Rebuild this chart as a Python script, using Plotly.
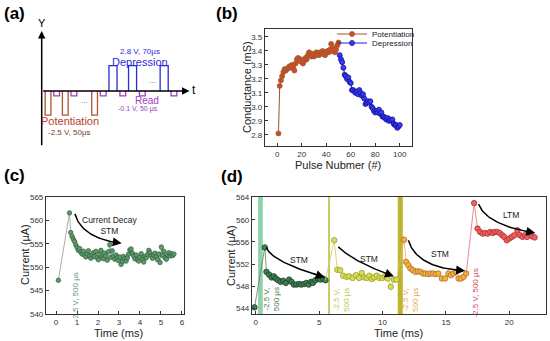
import plotly.graph_objects as go

FONT = "Arial, Liberation Sans, sans-serif"
W, H = 550, 341

# ---------------- (a) pulse scheme ----------------
seq_kind = ["P", "R", "P", "R", "...", "P", "R", "D", "R", "D", "R", "...", "D", "R"]
seq_volt = {"P": -2.5, "R": -0.1, "D": 2.8}
seq_width_us = {"P": 50, "R": 50, "D": 70, "...": 80}
gap_us = 25
t_start_us = 30

# ---------------- (b) conductance ----------------
pot_n = list(range(1, 51))
pot_g = [2.81, 3.15, 3.19, 3.22, 3.25, 3.27, 3.26, 3.27, 3.28, 3.29,
         3.28, 3.30, 3.28, 3.26, 3.31, 3.34, 3.35, 3.33, 3.34, 3.32,
         3.31, 3.33, 3.35, 3.34, 3.37, 3.39, 3.37, 3.36, 3.38, 3.36,
         3.37, 3.39, 3.38, 3.37, 3.39, 3.38, 3.40, 3.38, 3.37, 3.39,
         3.40, 3.39, 3.41, 3.45, 3.40, 3.42, 3.39, 3.41, 3.44, 3.46]
dep_n = list(range(51, 101))
dep_g = [3.37, 3.34, 3.32, 3.28, 3.23, 3.22, 3.20, 3.21, 3.18, 3.17,
         3.12, 3.12, 3.11, 3.10, 3.11, 3.09, 3.12, 3.10, 3.08, 3.09,
         3.06, 3.02, 3.03, 3.04, 3.03, 3.04, 3.00, 2.99, 2.97, 2.96,
         2.97, 2.96, 2.98, 2.95, 2.96, 2.93, 2.93, 2.92, 2.91, 2.92,
         2.90, 2.91, 2.90, 2.91, 2.88, 2.87, 2.87, 2.85, 2.86, 2.87]

# ---------------- (c) single pulse STM ----------------
c_time = [0.11, 0.64, 0.70, 0.76, 0.82, 0.88, 0.94, 1.00, 1.06, 1.12, 1.18, 1.24, 1.30,
          1.36, 1.42, 1.48, 1.54, 1.60, 1.66, 1.72, 1.78, 1.84, 1.90, 1.96, 2.02,
          2.08, 2.14, 2.20, 2.26, 2.32, 2.38, 2.44, 2.50, 2.56, 2.62, 2.68, 2.74,
          2.80, 2.86, 2.92, 2.98, 3.04, 3.10, 3.16, 3.22, 3.28, 3.34, 3.40, 3.46,
          3.52, 3.58, 3.64, 3.70, 3.76, 3.82, 3.88, 3.94, 4.00, 4.06, 4.12, 4.18,
          4.24, 4.30, 4.36, 4.42, 4.48, 4.54, 4.60, 4.66, 4.72, 4.78, 4.84, 4.90,
          4.96, 5.02, 5.08, 5.14, 5.20, 5.26, 5.32, 5.38, 5.44, 5.50, 5.56, 5.62]
c_curr = [547.2, 561.6, 557.4, 556.6, 556.0, 555.5, 554.8, 554.2, 553.6, 554.0, 553.2, 552.8, 553.4,
          552.6, 552.2, 552.9, 553.5, 552.4, 551.9, 552.6, 553.1, 552.3, 553.4, 552.0, 551.6,
          552.8, 553.6, 552.2, 551.8, 553.0, 552.4, 551.5, 553.3, 554.8, 552.1, 553.5, 552.3,
          551.7, 552.6, 552.0, 551.4, 552.2, 550.6, 551.2, 552.3, 551.8, 551.3, 552.0, 552.8,
          553.7, 553.9, 553.0, 552.4, 551.8, 552.6, 551.6, 551.3, 552.1, 552.9, 551.7, 551.1,
          552.3, 552.0, 552.7, 553.6, 553.1, 552.4, 551.9, 552.6, 553.0, 552.2, 551.6, 552.8,
          551.0, 554.3, 552.5, 553.4, 552.0, 551.7, 552.6, 553.1, 552.4, 552.9, 552.5, 552.8]

# ---------------- (d) STM -> LTM ----------------
d1_t = [-0.1, 0.71, 0.84, 1.05, 1.24, 1.42, 1.58, 1.76, 1.95, 2.16, 2.37, 2.63, 2.82, 3.0,
        3.21, 3.42, 3.6, 3.82, 4.0, 4.18, 4.37, 4.5, 4.7, 4.9, 5.1, 5.3, 5.5]
d1_i = [544.2, 555.0, 550.6, 550.1, 549.6, 549.8, 549.4, 549.1, 548.8, 549.0, 548.6, 549.2, 548.8, 548.3,
        548.3, 548.4, 548.3, 548.4, 548.6, 548.3, 548.8, 548.6, 549.1, 549.4, 549.2, 549.4, 549.1]
d2_t = [6.19, 6.43, 6.66, 6.9, 7.16, 7.37, 7.64, 7.9, 8.15, 8.36, 8.54, 8.75, 8.96, 9.15,
        9.33, 9.54, 9.75, 9.99, 10.2, 10.4, 10.65, 10.9, 11.1]
d2_i = [556.3, 551.0, 550.9, 549.9, 549.7, 549.8, 549.5, 550.0, 549.5, 550.4, 549.6, 549.5, 549.9, 549.3,
        549.6, 549.9, 549.5, 549.5, 549.8, 549.4, 547.9, 549.2, 549.2]
d3_t = [11.7, 11.86, 12.04, 12.2, 12.4, 12.6, 12.8, 13.0, 13.2, 13.4, 13.6, 13.8, 14.0, 14.2,
        14.4, 14.68, 14.94, 15.2, 15.4, 15.6, 15.8, 16.0, 16.2, 16.4, 16.6]
d3_i = [556.4, 552.4, 551.8, 551.2, 550.9, 550.6, 550.7, 550.6, 550.3, 550.3, 550.2, 550.3, 550.3, 550.2,
        550.3, 549.4, 549.4, 550.3, 550.0, 550.3, 550.6, 549.4, 549.4, 549.7, 550.3]
d4_t = [17.23, 17.5, 17.7, 17.9, 18.1, 18.3, 18.5, 18.7, 18.85, 19.05, 19.25, 19.45, 19.6, 19.8,
        20.0, 20.2, 20.4, 20.65, 20.85, 21.05, 21.25, 21.4, 21.6, 21.8, 22.0]
d4_i = [563.0, 558.4, 557.8, 557.5, 557.6, 557.5, 557.8, 557.6, 557.8, 557.8, 557.6, 557.2, 556.9, 556.3,
        556.6, 556.9, 557.2, 558.1, 557.2, 556.9, 557.2, 556.9, 557.5, 557.0, 556.8]
d_pulse_start = [0.18, 5.72, 11.2]
d_pulse_end = [0.55, 5.84, 11.6]

fig = go.Figure()

def px_x(p):
    return p / W

def px_y(p):
    return 1 - p / H

def note(**kw):
    kw.setdefault("xanchor", "center")
    kw.setdefault("yanchor", "middle")
    fig.add_annotation(**kw)

# ---------- panel (a) ----------
pot_col, read_col, dep_col = "#B0552C", "#A040C0", "#2A2AD8"
kind_col = {"P": pot_col, "R": read_col, "D": dep_col}
t = t_start_us
dots_pos = []
for k in seq_kind:
    w = seq_width_us[k]
    s, e = t, t + w
    if k == "...":
        dots_pos.append((s + e) / 2)
    else:
        v = seq_volt[k]
        h = (abs(v) ** 0.5) * (1 if v > 0 else -1)
        fig.add_trace(go.Scatter(x=[s, s, e, e], y=[0, h, h, 0], mode="lines",
                                 line=dict(color=kind_col[k], width=1.3),
                                 xaxis="x", yaxis="y", showlegend=False, hoverinfo="skip"))
    t = e + gap_us

fig.add_annotation(x=0, y=3.95, ax=0, ay=-3.66, xref="x", yref="y", axref="x", ayref="y",
                   showarrow=True, arrowhead=2, arrowsize=1, arrowwidth=1.5, arrowcolor="black", text="")
fig.add_annotation(x=1285, y=0, ax=0, ay=0, xref="x", yref="y", axref="x", ayref="y",
                   showarrow=True, arrowhead=2, arrowsize=1, arrowwidth=1.5, arrowcolor="black", text="")
a_txt = [
    ("Y", 0, 4.45, 11, "black"),
    ("t", 1325, 0.05, 12, "black"),
    ("2.8 V, 70µs", 855, 2.62, 8, dep_col),
    ("Depression", 855, 1.88, 11, dep_col),
    ("Read", 913, -0.62, 10, read_col),
    ("-0.1 V, 50 µs", 840, -1.17, 7, read_col),
    ("Potentiation", 246, -1.98, 11, "#B5432E"),
    ("-2.5 V, 50µs", 246, -2.7, 8, "#7A3A2A"),
]
for txt, x, y, sz, col in a_txt:
    note(x=x, y=y, xref="x", yref="y", text=txt, showarrow=False,
         font=dict(size=sz, color=col, family=FONT))
for dp, yy in zip(dots_pos, [-0.6, 0.72]):
    note(x=dp, y=yy, xref="x", yref="y", text="...", showarrow=False,
         font=dict(size=8, color="#555", family=FONT))

# ---------- panel (b) ----------
fig.add_trace(go.Scatter(x=pot_n, y=pot_g, mode="lines+markers", name="Potentiation",
                         line=dict(color="#A0522D", width=1),
                         marker=dict(size=5, color="#E0402A", line=dict(color="#8A6A28", width=0.8)),
                         xaxis="x2", yaxis="y2", legend="legend"))
fig.add_trace(go.Scatter(x=dep_n, y=dep_g, mode="lines+markers", name="Depression",
                         line=dict(color="#2020D0", width=1),
                         marker=dict(size=5, color="#3A3AF0", line=dict(color="#1010A0", width=0.8)),
                         xaxis="x2", yaxis="y2", legend="legend2"))

# ---------- panel (c) ----------
fig.add_trace(go.Scatter(x=c_time, y=c_curr, mode="lines+markers",
                         line=dict(color="#8E9C92", width=0.8),
                         marker=dict(size=4.5, color="#5E9A6A", line=dict(color="#2F5F3A", width=0.7)),
                         xaxis="x3", yaxis="y3", showlegend=False))

# ---------- panel (d) ----------
segs = [(d1_t, d1_i, "#3F7F4F", "#1E3E28", "#5A7F62"),
        (d2_t, d2_i, "#D4DC5A", "#9AA020", "#C8CE5A"),
        (d3_t, d3_i, "#F5B045", "#B07020", "#F0B060"),
        (d4_t, d4_i, "#F06060", "#B03030", "#E07070")]
prev = None
for tt, ii, fc, ec, lc in segs:
    lx, ly = list(tt), list(ii)
    if prev is not None:
        lx = [prev[0]] + lx
        ly = [prev[1]] + ly
    fig.add_trace(go.Scatter(x=lx, y=ly, mode="lines", line=dict(color=lc, width=0.8),
                             xaxis="x4", yaxis="y4", showlegend=False, hoverinfo="skip"))
    fig.add_trace(go.Scatter(x=tt, y=ii, mode="markers",
                             marker=dict(size=5.5, color=fc, line=dict(color=ec, width=0.8)),
                             xaxis="x4", yaxis="y4", showlegend=False))
    prev = (tt[-1], ii[-1])

band_cols = ["#8ED3A8", "#B5BA3A", "#BDB52E"]
for s, e, col in zip(d_pulse_start, d_pulse_end, band_cols):
    fig.add_shape(type="rect", xref="x4", yref="y4 domain", x0=s, x1=e, y0=0, y1=1,
                  fillcolor=col, line=dict(width=0), layer="below")

# curved arrows
def bez(p0, p1, p2, n=40):
    xs, ys = [], []
    for i in range(n + 1):
        u = i / n
        xs.append((1 - u) ** 2 * p0[0] + 2 * (1 - u) * u * p1[0] + u ** 2 * p2[0])
        ys.append((1 - u) ** 2 * p0[1] + 2 * (1 - u) * u * p1[1] + u ** 2 * p2[1])
    return xs, ys

arrows = [
    ("x3", "y3", (0.9, 561.4), (1.22, 556.15), (3.13, 555.1)),
    ("x4", "y4", (0.84, 555.0), (1.17, 552.5), (5.45, 549.6)),
    ("x4", "y4", (6.51, 555.1), (7.73, 552.35), (10.9, 549.8)),
    ("x4", "y4", (12.04, 556.3), (12.7, 551.25), (16.52, 550.8)),
    ("x4", "y4", (17.58, 562.8), (18.24, 559.0), (22.06, 557.6)),
]
for xa, ya, p0, p1, p2 in arrows:
    xs, ys = bez(p0, p1, p2)
    fig.add_trace(go.Scatter(x=xs[:-2], y=ys[:-2], mode="lines", line=dict(color="black", width=1.5),
                             xaxis=xa, yaxis=ya, showlegend=False, hoverinfo="skip"))
    fig.add_annotation(x=xs[-1], y=ys[-1], ax=xs[-6], ay=ys[-6], xref=xa, yref=ya, axref=xa, ayref=ya,
                       showarrow=True, arrowhead=2, arrowsize=1.2, arrowwidth=1.5, arrowcolor="black", text="")

lbls = [
    ("x3", "y3", 2.57, 559.0, "Current Decay<br>STM", 8.5),
    ("x4", "y4", 3.42, 552.7, "STM", 8.5),
    ("x4", "y4", 8.96, 553.0, "STM", 8.5),
    ("x4", "y4", 14.55, 553.9, "STM", 8.5),
    ("x4", "y4", 20.13, 560.8, "LTM", 8.5),
]
for xa, ya, x, y, txt, sz in lbls:
    note(x=x, y=y, xref=xa, yref=ya, text=txt, showarrow=False,
         font=dict(size=sz, color="#222", family=FONT))

vtxt = [
    ("x3", "y3", 0.94, 543.7, "-2.5 V, 500 µs", "#6E9276"),
    ("x4", "y4", 1.25, 545.6, "-2.5 V,<br>500 µs", "#3F7A4C"),
    ("x4", "y4", 6.75, 545.6, "-2.5 V,<br>500 µs", "#C2C848"),
    ("x4", "y4", 12.2, 545.6, "-2.5 V,<br>500 µs", "#E8A848"),
    ("x4", "y4", 17.35, 546.8, "-2.5 V, 500 µs", "#D04858"),
]
for xa, ya, x, y, txt, col in vtxt:
    note(x=x, y=y, xref=xa, yref=ya, text=txt, showarrow=False, textangle=-90,
         font=dict(size=8, color=col, family=FONT))

# axis titles and panel labels
titles = [
    ("Conductance (mS)", 247, 87, -90),
    ("Pulse Nubmer (#)", 338, 165, 0),
    ("Current (µA)", 25, 255, -90),
    ("Time (ms)", 118, 333, 0),
    ("Current (µA)", 231, 256, -90),
    ("Time (ms)", 398, 333, 0),
]
for txt, x, y, ang in titles:
    note(x=px_x(x), y=px_y(y), xref="paper", yref="paper", text=txt, showarrow=False,
         textangle=ang, font=dict(size=11, color="#222", family=FONT))
for txt, x, y in [("(a)", 14, 14), ("(b)", 227, 14), ("(c)", 14, 175), ("(d)", 232, 176)]:
    note(x=px_x(x), y=px_y(y), xref="paper", yref="paper", text="<b>%s</b>" % txt,
         showarrow=False, font=dict(size=17, color="black", family=FONT))

def ax_style(**kw):
    d = dict(showline=True, linecolor="#333", linewidth=1.2, mirror=True, ticks="inside",
             ticklen=3, tickwidth=1, tickcolor="#333", showgrid=False, zeroline=False,
             automargin=False, tickfont=dict(size=8, color="#333", family=FONT))
    d.update(kw)
    return d

leg_common = dict(xanchor="left", yanchor="middle", bgcolor="rgba(0,0,0,0)",
                  font=dict(size=8, color="#222", family=FONT), itemwidth=30,
                  borderwidth=0)

fig.update_layout(
    width=W, height=H, margin=dict(l=0, r=0, t=0, b=0, pad=0, autoexpand=False),
    paper_bgcolor="white", plot_bgcolor="white",
    font=dict(family=FONT),
    xaxis=dict(domain=[0, 200 / W], range=[-362.6, 1376.5], visible=False, fixedrange=True, automargin=False),
    yaxis=dict(domain=[1 - 160 / H, 1], range=[-4.54, 5.99], visible=False, fixedrange=True, automargin=False),
    xaxis2=ax_style(domain=[px_x(265), px_x(412)], range=[-10, 110], tick0=0, dtick=20, anchor="y2"),
    yaxis2=ax_style(domain=[px_y(146), px_y(29)], range=[2.72, 3.557], tick0=2.8, dtick=0.1,
                    tickformat=".1f", anchor="x2"),
    xaxis3=ax_style(domain=[px_x(46), px_x(184)], range=[-0.48, 6.1], tick0=0, dtick=1, anchor="y3"),
    yaxis3=ax_style(domain=[px_y(314), px_y(197)], range=[540, 565], tick0=540, dtick=5, anchor="x3"),
    xaxis4=ax_style(domain=[px_x(252), px_x(546)], range=[-0.3, 22.9], tick0=0, dtick=5, anchor="y4"),
    yaxis4=ax_style(domain=[px_y(314), px_y(197)], range=[543, 564.1], tick0=544, dtick=4, anchor="x4"),
    legend=dict(x=px_x(332), y=px_y(34), **leg_common),
    legend2=dict(x=px_x(332), y=px_y(43), **leg_common),
    showlegend=True,
)

fig.write_html("out.html", config={"displayModeBar": False},
               post_script="document.body.style.margin='0px';document.body.style.padding='0px';")
